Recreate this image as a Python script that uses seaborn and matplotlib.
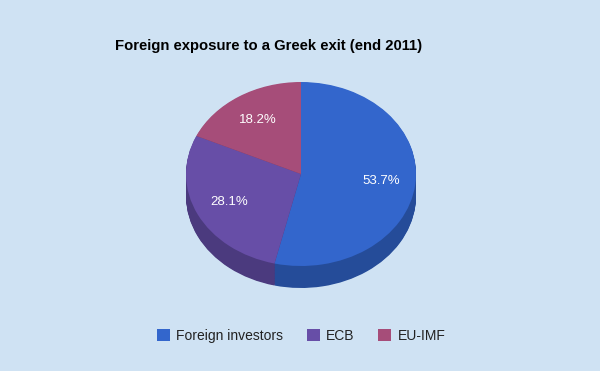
import matplotlib
matplotlib.use("Agg")
import matplotlib.pyplot as plt
import seaborn as sns
import numpy as np

categories = ["Foreign investors", "ECB", "EU-IMF"]
values = [53.7, 28.1, 18.2]
colors = ["#3366cc", "#674ea7", "#a64d79"]
side_colors = ["#254c99", "#4b3a7e", "#7a385a"]
title = "Foreign exposure to a Greek exit (end 2011)"
bg = "#cfe2f3"

sns.set_theme(style="white")
plt.rcParams['font.family'] = ['Liberation Sans', 'DejaVu Sans']

W, H = 600, 371
fig = plt.figure(figsize=(W / 100, H / 100), dpi=100)
fig.patch.set_facecolor(bg)

# pie top face: center (301,174), rx 115, ry 92, depth 22 px
cx, cy, rx, ry, depth = 301, 174, 115, 92, 22
left = (cx - rx) / W
bottom = (H - (cy + ry + depth)) / H
ax = fig.add_axes([left, bottom, 2 * rx / W, (2 * ry + depth) / H])
ax.set_facecolor(bg)
dz = depth / ry

n_layers = 30
for k in range(n_layers, 0, -1):
    off = dz * k / n_layers
    ax.pie(values, colors=side_colors, startangle=90, counterclock=False,
           center=(0, -off), radius=1,
           wedgeprops=dict(linewidth=0, antialiased=True))

wedges, texts, autotexts = ax.pie(
    values, colors=colors, startangle=90, counterclock=False,
    autopct='%.1f%%', pctdistance=0.7, radius=1,
    wedgeprops=dict(linewidth=0),
    textprops=dict(color="white", fontsize=9.5))

ax.set_aspect('auto')
ax.set_xlim(-1, 1)
ax.set_ylim(-1 - dz, 1)
ax.axis('off')

fig.text(115 / W, 1 - 50 / H, title, fontsize=10.7, fontweight='bold',
         color='black', ha='left', va='baseline')

leg = fig.legend(wedges, categories, loc='center', ncol=3,
                 bbox_to_anchor=(301 / W, 1 - 336 / H), frameon=False,
                 fontsize=10, handlelength=0.95, handleheight=0.95,
                 handletextpad=0.45, columnspacing=1.7)
for t in leg.get_texts():
    t.set_color('#222222')

fig.savefig("out.png", dpi=100, facecolor=bg)
